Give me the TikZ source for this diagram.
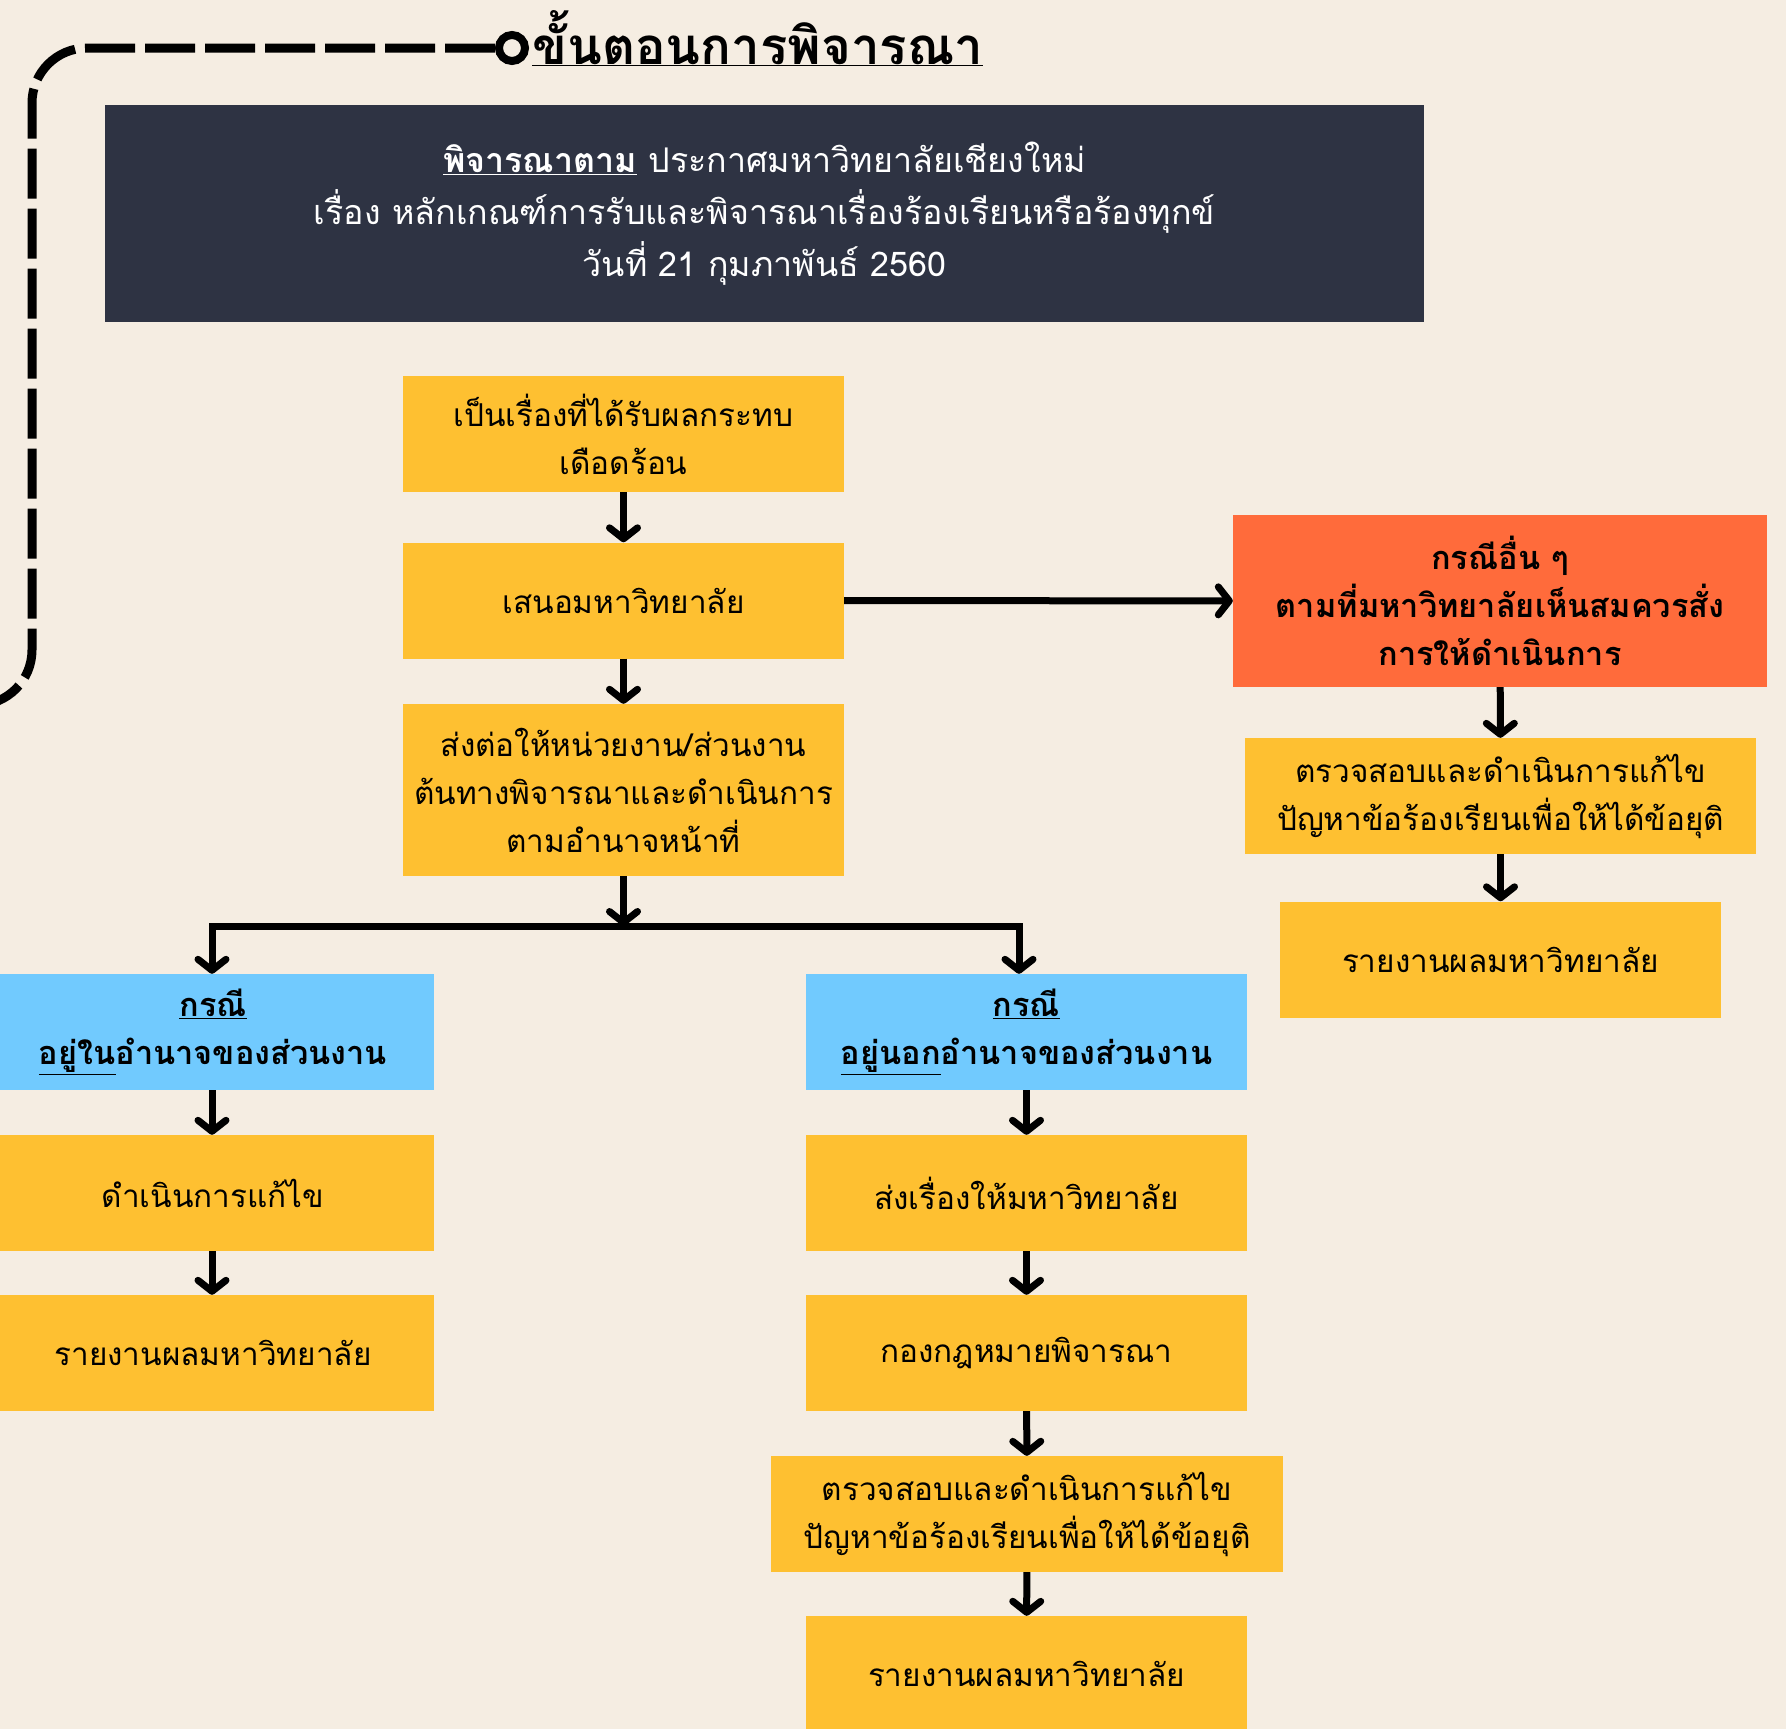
\documentclass[tikz,border=0pt]{standalone}
\usepackage{fontspec}
\newfontfamily\thaifont[Script=Thai]{Loma}
\usetikzlibrary{arrows.meta}
\definecolor{cream}{HTML}{F5EDE2}
\definecolor{navy}{HTML}{2E3343}
\definecolor{sun}{HTML}{FEC031}
\definecolor{sky}{HTML}{71CAFE}
\definecolor{flame}{HTML}{FF6B3B}

\begin{document}
\begin{tikzpicture}[x=1pt, y=-1pt,
    font=\thaifont\fontsize{31.5}{48}\selectfont,
    main/.style = {fill=sun, align=center, minimum width=441pt, minimum height=116pt, inner sep=0pt},
    wide/.style = {main, minimum width=512pt},
    case/.style = {main, fill=sky, font=\thaifont\bfseries\fontsize{32.5}{48}\selectfont},
    other/.style = {main, fill=flame, minimum width=534pt, minimum height=172pt, font=\thaifont\bfseries\fontsize{32.5}{48}\selectfont},
    tip/.tip = {Straight Barb[round, length=11pt, width=28pt]},
    arr/.style = {line width=7pt, -tip},
    dashline/.style = {line width=9pt, dash pattern=on 50pt off 10pt, rounded corners=55pt}]
    \useasboundingbox[fill=cream] (0,0) rectangle (1786,1729);

    % title
    \node [circle, draw, line width=8pt, minimum size=26pt, inner sep=0pt] (ring) at (512,48) {};
    \node [anchor=base west, inner sep=0pt, font=\thaifont\bfseries\fontsize{51}{56}\selectfont] (title) at (532,64) {\underline{ขั้นตอนการพิจารณา}};
    \draw [dashline] (ring.west) -- (32,48) -- (32,705) -- (-80,705);

    % header
    \node [fill=navy, text=white, align=center, minimum width=1319pt, minimum height=217pt, inner sep=0pt,
        font=\thaifont\fontsize{34}{52}\selectfont] (head) at (764.5,213.5)
        {\underline{\textbf{พิจารณาตาม}} ประกาศมหาวิทยาลัยเชียงใหม่\\
         เรื่อง หลักเกณฑ์การรับและพิจารณาเรื่องร้องเรียนหรือร้องทุกข์\\
         วันที่ 21 กุมภาพันธ์ 2560};

    % main column
    \node [main] (b1) at (623.5,434) {เป็นเรื่องที่ได้รับผลกระทบ\\เดือดร้อน};
    \node [main] (b2) at (623.5,600.5) {เสนอมหาวิทยาลัย};
    \node [main, minimum height=172pt] (b3) at (623.5,790) {ส่งต่อให้หน่วยงาน/ส่วนงาน\\ต้นทางพิจารณาและดำเนินการ\\ตามอำนาจหน้าที่};

    % other cases
    \node [other] (o) at (1500,601) {กรณีอื่น ๆ\\ตามที่มหาวิทยาลัยเห็นสมควรสั่ง\\การให้ดำเนินการ};
    \node [main, minimum width=511pt] (r1) at (1500.5,796) {ตรวจสอบและดำเนินการแก้ไข\\ปัญหาข้อร้องเรียนเพื่อให้ได้ข้อยุติ};
    \node [main] (r2) at (1500.5,959.5) {รายงานผลมหาวิทยาลัย};

    % inside
    \node [case] (lb) at (213,1032) {\underline{กรณี}\\\underline{อยู่ใน}อำนาจของส่วนงาน};
    \node [main] (l1) at (213,1193) {ดำเนินการแก้ไข};
    \node [main] (l2) at (213,1353) {รายงานผลมหาวิทยาลัย};

    % outside
    \node [case] (mb) at (1026.5,1032) {\underline{กรณี}\\\underline{อยู่นอก}อำนาจของส่วนงาน};
    \node [main] (m1) at (1026.5,1193) {ส่งเรื่องให้มหาวิทยาลัย};
    \node [main] (m2) at (1026.5,1353) {กองกฎหมายพิจารณา};
    \node [wide] (m3) at (1027,1514) {ตรวจสอบและดำเนินการแก้ไข\\ปัญหาข้อร้องเรียนเพื่อให้ได้ข้อยุติ};
    \node [main] (m4) at (1026.5,1674) {รายงานผลมหาวิทยาลัย};

    \coordinate (split) at (623.5,926);
    \coordinate (lsplit) at (212,926);
    \coordinate (rsplit) at (1019,926);

    \draw [arr] (b1) -- (b2);
    \draw [arr] (b2) -- (b3);
    \draw [arr] (b2) -- (o);
    \draw [arr] (o) -- (r1);
    \draw [arr] (r1) -- (r2);
    \draw [arr] (b3) -- (split);
    \draw [line width=7pt, tip-tip] (lsplit |- lb.north) -- (lsplit) -- (rsplit) -- (rsplit |- mb.north);
    \draw [arr] (lb.south -| lsplit) -- (l1.north -| lsplit);
    \draw [arr] (l1.south -| lsplit) -- (l2.north -| lsplit);
    \draw [arr] (mb) -- (m1);
    \draw [arr] (m1) -- (m2);
    \draw [arr] (m2) -- (m3);
    \draw [arr] (m3) -- (m4);
\end{tikzpicture}
\end{document}
